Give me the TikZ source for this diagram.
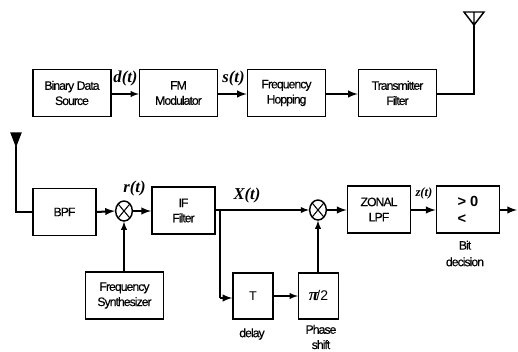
\documentclass[tikz,border=0pt]{standalone}
\usepackage{fontspec}
\setmainfont{Liberation Sans}[LetterSpace=-8,FakeBold=0.3]
\newfontfamily\sigfont{Liberation Serif}
\newfontfamily\plainfont{Liberation Sans}
\usetikzlibrary{positioning}
\usetikzlibrary{shapes.geometric}
\usetikzlibrary{arrows}
\tikzset{
  blockbox/.style={draw,line width=1.1pt,rectangle,inner sep=0pt,align=center,font=\fontsize{9.2}{11.4}\selectfont,minimum width=58.5pt,minimum height=35.5pt},
  smallbox/.style={blockbox,minimum width=47.5pt},
  delaybox/.style={blockbox,minimum width=30pt,minimum height=34.5pt},
  mixer/.style={draw,line width=1.1pt,ellipse,minimum width=12.5pt,minimum height=15pt,inner sep=0pt,
    path picture={\draw[line width=0.8pt] (path picture bounding box.north west) -- (path picture bounding box.south east)
      (path picture bounding box.north east) -- (path picture bounding box.south west);}},
  sigtext/.style={inner sep=0.75pt,font=\sigfont\fontsize{12.5}{14}\selectfont\bfseries\itshape},
  undertext/.style={inner sep=0.75pt,align=center,font=\fontsize{9.2}{11.4}\selectfont},
  conn/.style={line width=1.1pt},
  link/.style={conn,-latex},
  heavylink/.style={line width=1.5pt,-latex}
}
\begin{document}
\begin{tikzpicture}[x=0.75pt,y=0.75pt,yscale=-1,xscale=1]
\useasboundingbox (0,0) rectangle (518,351);

%Transmit chain
\node [blockbox] (source) at (72,93) {Binary Data\\Source};
\node [blockbox] (modulator) at (178.5,93) {FM\\Modulator};
\node [blockbox] (hopping) at (286.5,93) {Frequency\\Hopping};
\node [blockbox] (txfilter) at (397.5,93) {Transmitter\\Filter};

%Receive chain
\node [smallbox] (bpf) at (64.5,212) {BPF};
\node [mixer] (mixa) at (124,211) {};
\node [smallbox] (iffilter) at (183.5,210.5) {IF\\Filter};
\node [mixer] (mixb) at (318,210) {};
\node [smallbox] (zonal) at (379,209.5) {ZONAL\\LPF};
\node [smallbox,font=\plainfont\fontsize{11}{12.8}\selectfont\bfseries,align=left] (decision) at (468,209.5) {> 0\\<};
\node [blockbox] (synth) at (124.5,295.5) {Frequency\\Synthesizer};
\node [delaybox,font=\plainfont\fontsize{9.5}{11}\selectfont] (delay) at (253,296) {T};
\node [delaybox,font=\plainfont\fontsize{10.5}{12}\selectfont] (phase) at (318.5,296) {{\sigfont\bfseries\itshape\fontsize{13}{14}\selectfont π}\kern-1.5pt/2};

%Free ends
\coordinate (txant) at (474,25);
\coordinate (rxant) at (16,146);
\coordinate (txcorner) at (474,94);
\coordinate (rxcorner) at (16,212);
\coordinate (branch) at (220,210);
\coordinate (branchdown) at (220,298);
\coordinate (outend) at (517,210);

%Connectors
\draw [link] (source.east |- txcorner) -- (modulator.west |- txcorner);
\draw [heavylink] (modulator.east |- txcorner) -- (hopping.west |- txcorner);
\draw [heavylink] (hopping.east |- txcorner) -- (txfilter.west |- txcorner);
\draw [conn] (txfilter.east |- txcorner) -- (txcorner) -- (txant);
\draw [conn] (rxant) -- (rxcorner) -- (bpf.west);
\draw [heavylink] (bpf.east) -- (mixa.west);
\draw [heavylink] (mixa.east) -- (iffilter.west |- mixa.east);
\draw [link] (mixa.south |- synth.north) -- (mixa.south);
\draw [link] (iffilter.east |- mixb.west) -- (mixb.west);
\draw [conn] (branch) -- (branchdown);
\draw [heavylink] (branchdown) -- (delay.west |- branchdown);
\draw [link] (delay.east) -- (phase.west);
\draw [link] (mixb.south |- phase.north) -- (mixb.south);
\draw [heavylink] (mixb.east) -- (zonal.west |- mixb.east);
\draw [heavylink] (zonal.east |- mixb.east) -- (decision.west |- mixb.east);
\draw [heavylink] (decision.east |- mixb.east) -- (outend);

%Antennas
\draw [line width=1.1pt] (464,12) -- (484,12) -- (txant) -- cycle (474,12) -- (txant);
\draw [fill=black,line width=0.8pt] (11,133) -- (21,133) -- (rxant) -- cycle;

% Text Node
\node [sigtext] (dlabel) at (125.5,78) {d(t)};
\node [sigtext] (slabel) at (233.5,78) {s(t)};
\node [sigtext] (rlabel) at (134.5,188) {r(t)};
\node [sigtext] (xlabel) at (247,195.5) {X(t)};
\node [sigtext,font=\sigfont\fontsize{9.5}{10}\selectfont\bfseries\itshape] (zlabel) at (424,193) {z(t)};
\node [undertext] (delaylabel) at (252,334) {delay};
\node [undertext] (phaselabel) at (321,337) {Phase\\shift};
\node [undertext,font=\fontsize{9.2}{12.4}\selectfont] (bitlabel) at (465,253.5) {Bit\\decision};
\end{tikzpicture}
\end{document}
